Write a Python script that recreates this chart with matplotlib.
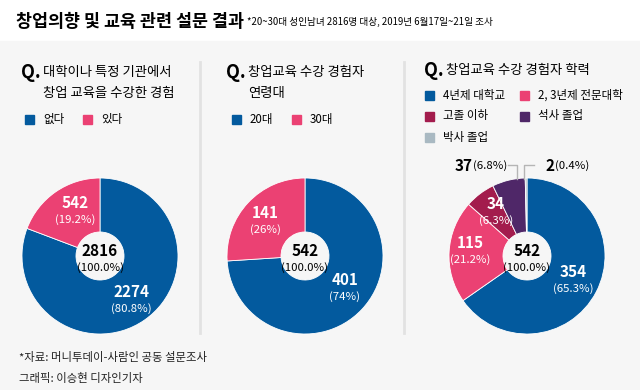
import matplotlib
matplotlib.use('Agg')
import matplotlib.pyplot as plt
from matplotlib.patches import Rectangle

plt.rcParams['font.family'] = ['Noto Sans CJK KR', 'DejaVu Sans']

# data
q1_labels = ['없다', '있다']
q1_values = [2274, 542]
q1_pcts = ['80.8%', '19.2%']

q2_labels = ['20대', '30대']
q2_values = [401, 141]
q2_pcts = ['74%', '26%']

q3_labels = ['4년제 대학교', '2, 3년제 전문대학', '고졸 이하', '석사 졸업', '박사 졸업']
q3_values = [354, 115, 34, 37, 2]
q3_pcts = ['65.3%', '21.2%', '6.3%', '6.8%', '0.4%']

BLUE = '#035a9e'
PINK = '#eb4173'
RED = '#a31c4d'
PURPLE = '#4f2768'
GREY = '#a9b9c2'
q1_colors = [BLUE, PINK]
q2_colors = [BLUE, PINK]
q3_colors = [BLUE, PINK, RED, PURPLE, GREY]

NUM_FS = 11
PCT_FS = 8.2

W, H = 640, 390
fig = plt.figure(figsize=(6.4, 3.9), dpi=100)
ax = fig.add_axes([0, 0, 1, 1])


def Y(y):
    return H - y


# backgrounds
ax.add_patch(Rectangle((0, 0), W, Y(41), color='#f6f6f6', zorder=0))

ax.text(16, Y(22), '창업의향 및 교육 관련 설문 결과', fontsize=12.5, fontweight='bold',
        va='center', ha='left')
ax.text(247, Y(22), '*20~30대 성인남녀 2816명 대상, 2019년 6월17일~21일 조사',
        fontsize=6.95, va='center', ha='left')

# separators
for sx in [200, 404]:
    ax.plot([sx, sx], [Y(62), Y(333)], color='#e2e2e2', lw=2, zorder=1)


def donut(values, colors, cx, cy, total_text):
    ax.pie(values, colors=colors, startangle=90, counterclock=False,
           center=(cx, Y(cy)), radius=78,
           wedgeprops=dict(width=54, edgecolor='white', linewidth=0.6))
    ax.text(cx, Y(cy - 5), total_text, fontsize=NUM_FS, fontweight='bold',
            ha='center', va='center')
    ax.text(cx, Y(cy + 12), '(100.0%)', fontsize=PCT_FS, ha='center', va='center')


def slice_label(x, y, num, pct, color='white'):
    ax.text(x, Y(y), str(num), fontsize=NUM_FS, fontweight='bold', color=color,
            ha='center', va='center')
    ax.text(x, Y(y + 17), '(' + pct + ')', fontsize=PCT_FS, color=color,
            ha='center', va='center')


def q_title(x, y, lines, dx=21):
    ax.text(x - 1, Y(y), 'Q.', fontsize=13, fontweight='bold', va='center', ha='left')
    for i, line in enumerate(lines):
        ax.text(x + dx, Y(y + i * 21), line, fontsize=9.6, fontweight='medium',
                va='center', ha='left')


def legend_item(x, y, color, label):
    ax.add_patch(Rectangle((x, Y(y) - 4.5), 9, 9, color=color))
    ax.text(x + 18, Y(y), label, fontsize=8.3, va='center', ha='left')


# panel 1
q_title(22, 72, ['대학이나 특정 기관에서', '창업 교육을 수강한 경험'])
legend_item(25, 119, q1_colors[0], q1_labels[0])
legend_item(83, 119, q1_colors[1], q1_labels[1])
donut(q1_values, q1_colors, 100, 256, str(sum(q1_values)))
slice_label(131, 292, q1_values[0], q1_pcts[0])
slice_label(75, 203, q1_values[1], q1_pcts[1])

# panel 2
q_title(227, 72, ['창업교육 수강 경험자', '연령대'])
legend_item(232, 119, q2_colors[0], q2_labels[0])
legend_item(292, 119, q2_colors[1], q2_labels[1])
donut(q2_values, q2_colors, 305, 256, str(sum(q2_values)))
slice_label(345, 280, q2_values[0], q2_pcts[0])
slice_label(265, 213, q2_values[1], q2_pcts[1])

# panel 3
q_title(425, 70, ['창업교육 수강 경험자 학력'])
leg_pos = [(425, 95), (520, 95), (425, 116), (520, 116), (425, 137)]
for (lx, ly), c, lab in zip(leg_pos, q3_colors, q3_labels):
    legend_item(lx, ly, c, lab)
donut(q3_values, q3_colors, 527, 256, str(sum(q3_values)))
slice_label(573, 272, q3_values[0], q3_pcts[0])
slice_label(470, 243, q3_values[1], q3_pcts[1])
slice_label(496, 204, q3_values[2], q3_pcts[2])

# pie() resets the limits, so put them back before measuring text
ax.set_xlim(0, W)
ax.set_ylim(0, H)
ax.set_aspect('auto')
ax.axis('off')

# outside labels with leaders
ax.plot([508, 517, 517], [Y(165), Y(165), Y(179)], color='#b5b5b5', lw=1)
ax.plot([524, 524, 534], [Y(179), Y(165), Y(165)], color='#b5b5b5', lw=1)

renderer = fig.canvas.get_renderer()


def outside_label(x, y, num, pct):
    t = ax.text(x, Y(y), str(num), fontsize=NUM_FS, fontweight='bold',
                ha='left', va='center')
    bb = t.get_window_extent(renderer)
    x2 = ax.transData.inverted().transform((bb.x1, bb.y0))[0]
    ax.text(x2 + 0.5, Y(y), '(' + pct + ')', fontsize=PCT_FS, ha='left', va='center')


outside_label(455, 166, q3_values[3], q3_pcts[3])
outside_label(545, 166, q3_values[4], q3_pcts[4])

# footer
ax.text(19, Y(357), '*자료: 머니투데이-사람인 공동 설문조사', fontsize=8.2,
        va='center', ha='left', color='#222222')
ax.text(19, Y(378), '그래픽: 이승현 디자인기자', fontsize=8.2,
        va='center', ha='left', color='#222222')

fig.savefig('out.png', dpi=100)
